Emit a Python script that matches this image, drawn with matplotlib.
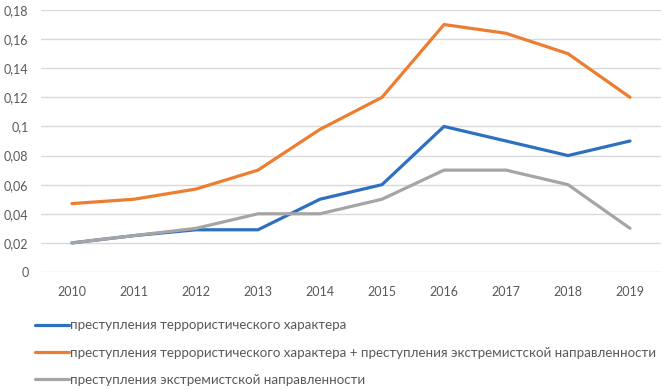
import matplotlib
matplotlib.use("Agg")
import matplotlib.pyplot as plt
from matplotlib.ticker import FuncFormatter

years = ["2010", "2011", "2012", "2013", "2014", "2015", "2016", "2017", "2018", "2019"]
terror = [0.02, 0.025, 0.029, 0.029, 0.05, 0.06, 0.10, 0.09, 0.08, 0.09]
combined = [0.047, 0.05, 0.057, 0.07, 0.098, 0.12, 0.17, 0.164, 0.15, 0.12]
extrem = [0.02, 0.025, 0.03, 0.04, 0.04, 0.05, 0.07, 0.07, 0.06, 0.03]
labels = [
    "преступления террористического характера",
    "преступления террористического характера + преступления экстремистской направленности",
    "преступления экстремистской направленности",
]
yticks = [0, 0.02, 0.04, 0.06, 0.08, 0.1, 0.12, 0.14, 0.16, 0.18]

plt.rcParams['font.family'] = ['Lato', 'DejaVu Sans']
txt = '#595959'

fig = plt.figure(figsize=(6.64, 3.9), dpi=100)
ax = fig.add_axes([41/664, 1-272/390, 620/664, 262/390])

x = list(range(len(years)))
colors = ['#2E70C0', '#ED7D31', '#A5A5A5']
for ys, c, lab in zip([terror, combined, extrem], colors, labels):
    ax.plot(x, ys, color=c, lw=2.3, label=lab, solid_capstyle='round', solid_joinstyle='round')

ax.set_xlim(-0.5, len(years)-0.5)
ax.set_ylim(0, 0.18)
ax.set_yticks(yticks)
ax.yaxis.set_major_formatter(FuncFormatter(lambda v, p: ('%g' % v).replace('.', ',')))
ax.set_xticks(x)
ax.set_xticklabels(years)
ax.grid(axis='y', color='#D9D9D9', lw=1)
ax.set_axisbelow(True)
for s in ax.spines.values():
    s.set_visible(False)
ax.tick_params(axis='both', length=0, labelsize=9, colors=txt)
ax.tick_params(axis='y', pad=9)
ax.tick_params(axis='x', pad=10)

fig.legend(loc='upper left', bbox_to_anchor=(30/664, 1-314/390), frameon=False,
           fontsize=9.6, labelcolor=txt, handlelength=2.5, handletextpad=0.1,
           labelspacing=1.15, borderaxespad=0)

fig.savefig('out.png', dpi=100)
